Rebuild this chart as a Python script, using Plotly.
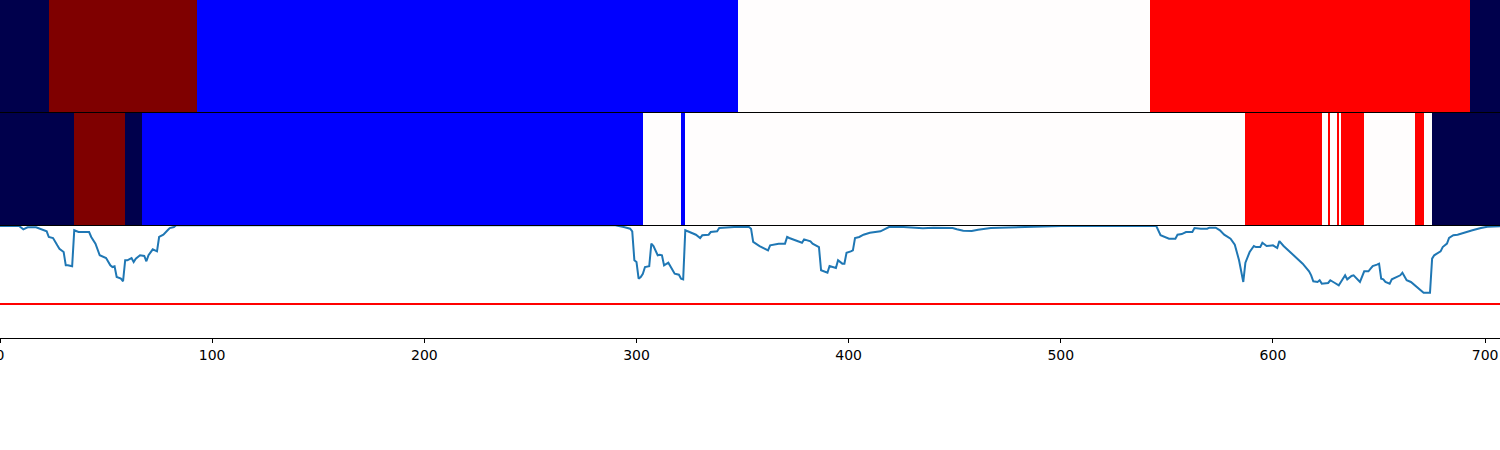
import plotly.graph_objects as go

# ---- segmentation bars (class labels over index ranges) ----
class_colors = ["#00004c", "#0000ff", "#fffdfd", "#ff0000", "#7f0000"]  # seismic: 0..4

top_edges = [0, 23, 93, 348, 542, 693, 707]
top_labels = [0, 4, 1, 2, 3, 0]

mid_edges = [0, 35, 59, 67, 303, 321, 323, 587, 623, 626, 627, 630, 631, 632, 643, 667, 671, 675, 707]
mid_labels = [0, 4, 0, 1, 2, 1, 2, 3, 2, 3, 2, 3, 2, 3, 2, 3, 2, 0]

# ---- score line ----
score_x = [0, 9, 11, 13, 17, 20, 22, 23, 25, 27, 28, 30, 31, 32, 34, 35, 37, 42, 43, 45, 46, 47, 50, 52, 53, 54, 55, 57, 58,
           59, 60, 62, 63, 64, 66, 68, 69, 70, 72, 74, 75, 77, 79, 80, 82, 83, 100, 200, 280,
           290, 294, 297, 298, 299, 300, 301, 302, 303, 304, 306, 307, 308, 310, 311, 312, 313, 315, 317, 318, 320, 321, 322,
           323, 325, 328, 330, 331, 334, 335, 338, 339, 346, 353, 354, 355, 358, 362, 363, 365, 367, 370, 371, 372,
           374, 378, 379, 382, 383, 386, 387, 390, 391, 393, 394, 395, 397, 398, 399, 401, 402, 403, 405, 407, 410, 415, 417,
           419, 424, 430, 435, 440, 449, 451, 454, 458, 461, 467, 481, 500, 518, 537, 545,
           547, 549, 551, 554, 555, 557, 559, 562, 563, 566, 569, 570, 573, 575, 577, 580, 582, 584, 586, 587, 589, 591, 592,
           594, 595, 597, 600, 602, 603, 605, 606, 610, 612, 614, 617, 618, 619, 621, 622, 623, 626, 627, 629, 631, 632, 634,
           635, 637, 638, 640, 641, 643, 645, 646, 647, 649, 650, 651, 652, 653, 655, 656, 659, 660, 661, 663, 665, 667, 669,
           671, 674, 675, 676, 679, 680, 682, 683, 685, 687, 690, 694, 698, 701, 707]
score_y = [0.991, 0.991, 0.962, 0.980, 0.980, 0.962, 0.944, 0.894, 0.885, 0.820, 0.790, 0.761, 0.643, 0.643, 0.635, 0.953,
           0.938, 0.938, 0.894, 0.835, 0.790, 0.732, 0.708, 0.643, 0.628, 0.635, 0.540, 0.525, 0.502,
           0.688, 0.688, 0.708, 0.673, 0.702, 0.732, 0.726, 0.679, 0.732, 0.785, 0.767, 0.894, 0.914, 0.953, 0.973, 0.982,
           0.997, 0.998, 0.998, 0.998,
           0.997, 0.982, 0.967, 0.944, 0.688, 0.673, 0.525, 0.540, 0.569, 0.628, 0.635, 0.835, 0.814, 0.732, 0.737, 0.732,
           0.643, 0.666, 0.599, 0.569, 0.560, 0.525, 0.519,
           0.953, 0.938, 0.914, 0.885, 0.909, 0.914, 0.938, 0.944, 0.973, 0.982, 0.982, 0.967, 0.850, 0.814, 0.776, 0.820,
           0.826, 0.835, 0.835, 0.894, 0.885,
           0.873, 0.843, 0.873, 0.856, 0.835, 0.805, 0.599, 0.578, 0.637, 0.628, 0.619, 0.688, 0.658, 0.658, 0.755, 0.767,
           0.776, 0.885, 0.894, 0.914, 0.932, 0.944, 0.962,
           0.982, 0.985, 0.976, 0.971, 0.976, 0.973, 0.962, 0.950, 0.947, 0.958, 0.973, 0.982, 0.991, 0.991, 0.991, 0.991,
           0.909, 0.894, 0.879, 0.879, 0.914, 0.920, 0.938, 0.938, 0.973, 0.967, 0.967, 0.976, 0.976, 0.953, 0.914, 0.879,
           0.826, 0.688, 0.496, 0.666, 0.761, 0.814, 0.805,
           0.805, 0.843, 0.814, 0.820, 0.796, 0.858, 0.814, 0.796, 0.732, 0.688, 0.658, 0.590, 0.555, 0.502, 0.496, 0.511,
           0.481, 0.487, 0.511, 0.489, 0.466, 0.496, 0.555,
           0.519, 0.549, 0.555, 0.511, 0.496, 0.590, 0.590, 0.613, 0.637, 0.649, 0.658, 0.525, 0.519, 0.496, 0.481, 0.519,
           0.549, 0.555, 0.578, 0.511, 0.496, 0.466, 0.436,
           0.401, 0.401, 0.702, 0.732, 0.767, 0.805, 0.835, 0.885, 0.909, 0.914, 0.932, 0.953, 0.973, 0.985, 0.988]
threshold = 0.3

x_ticks = [0, 100, 200, 300, 400, 500, 600, 700]
x_range = [0, 707]


def step_scale(colors):
    n = len(colors)
    scale = []
    for i, c in enumerate(colors):
        scale.append([i / n, c])
        scale.append([(i + 1) / n, c])
    return scale


cscale = step_scale(class_colors)

fig = go.Figure()
fig.add_trace(go.Heatmap(z=[top_labels], x=top_edges, y=[0, 1], colorscale=cscale,
                         zmin=-0.5, zmax=len(class_colors) - 0.5, showscale=False,
                         xaxis="x3", yaxis="y3", hoverinfo="skip"))
fig.add_trace(go.Heatmap(z=[mid_labels], x=mid_edges, y=[0, 1], colorscale=cscale,
                         zmin=-0.5, zmax=len(class_colors) - 0.5, showscale=False,
                         xaxis="x2", yaxis="y2", hoverinfo="skip"))
fig.add_trace(go.Scatter(x=score_x, y=score_y, mode="lines",
                         line=dict(color="#1f77b4", width=2), xaxis="x", yaxis="y",
                         showlegend=False, hoverinfo="skip"))
fig.add_trace(go.Scatter(x=x_range, y=[threshold, threshold], mode="lines",
                         line=dict(color="#ff0000", width=2), xaxis="x", yaxis="y",
                         showlegend=False, hoverinfo="skip"))

frame = dict(showline=True, linecolor="black", linewidth=1, mirror=True, showgrid=False, zeroline=False,
             automargin=False)
H = 338.0
fig.update_layout(
    width=1500, height=450,
    margin=dict(l=0, r=0, t=0, b=450 - 338, autoexpand=False),
    paper_bgcolor="white", plot_bgcolor="white",
    showlegend=False,
    font=dict(family="DejaVu Sans", size=14, color="black"),
    xaxis=dict(range=x_range, tickvals=x_ticks, ticks="outside", ticklen=4, tickwidth=1, tickcolor="black",
               ticklabeloverflow="allow", anchor="y", **frame),
    yaxis=dict(range=[0, 1], domain=[0, 113 / H], showticklabels=False, ticks="", anchor="x", **frame),
    xaxis2=dict(range=x_range, showticklabels=False, ticks="", anchor="y2", matches="x", **frame),
    yaxis2=dict(range=[0, 1], domain=[113 / H, 225 / H], showticklabels=False, ticks="", anchor="x2", **frame),
    xaxis3=dict(range=x_range, showticklabels=False, ticks="", anchor="y3", matches="x", **frame),
    yaxis3=dict(range=[0, 1], domain=[226 / H, 1], showticklabels=False, ticks="", anchor="x3", **frame),
)

fig.write_html("out.html", config={"displayModeBar": False},
               post_script="document.body.style.margin='0';")
